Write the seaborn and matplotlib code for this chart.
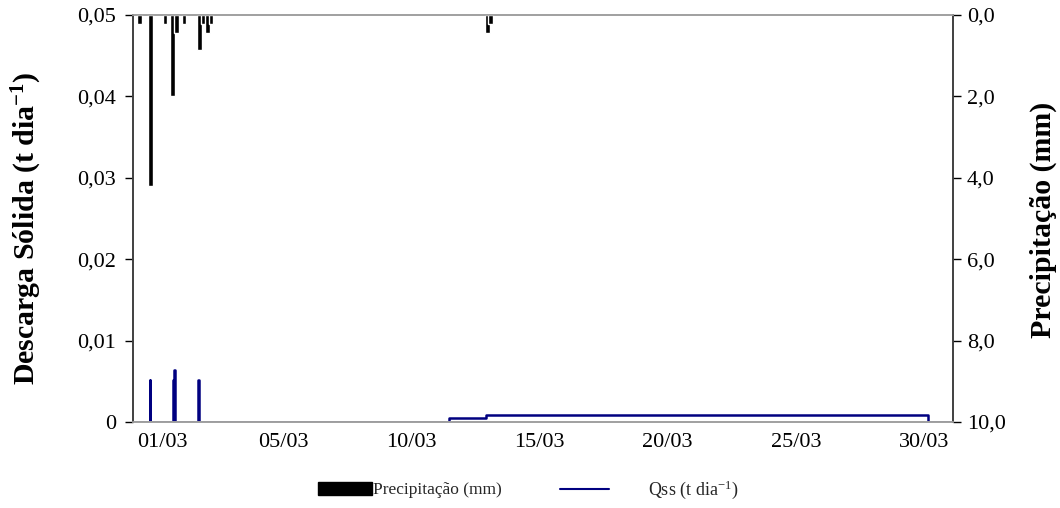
import matplotlib
matplotlib.use("Agg")
import matplotlib.pyplot as plt
import seaborn as sns
import pandas as pd
from matplotlib.patches import Patch
from matplotlib.lines import Line2D

# ---- data (x = day of March, 5 = 05/03 00:00) ----
prec_day = [-0.60, -0.17, 0.40, 0.69, 0.83, 1.14, 1.76, 1.90, 2.06, 2.19, 12.96, 13.09]
prec_mm = [0.22, 4.2, 0.22, 2.0, 0.45, 0.22, 0.86, 0.22, 0.45, 0.22, 0.45, 0.22]

qss_day = [-0.85, -0.20, -0.17, 0.70, 0.74, 0.76, 0.80, 1.70, 1.74, 11.47, 12.92, 30.16, 31.13]
qss_val = [0.0, 0.0052, 0.0, 0.0052, 0.0, 0.0064, 0.0, 0.0052, 0.0, 0.00054, 0.00082, 0.0, 0.0]

x_ticks = [0.28, 5, 10, 15, 20, 25, 30]
x_labels = ["01/03", "05/03", "10/03", "15/03", "20/03", "25/03", "30/03"]
left_ticks = [0, 0.01, 0.02, 0.03, 0.04, 0.05]
left_labels = ["0", "0,01", "0,02", "0,03", "0,04", "0,05"]
right_ticks = [0, 2, 4, 6, 8, 10]
right_labels = ["0,0", "2,0", "4,0", "6,0", "8,0", "10,0"]

sns.set_theme(style="white")
plt.rcParams["font.family"] = ["Liberation Serif", "DejaVu Serif"]
plt.rcParams["mathtext.fontset"] = "custom"
plt.rcParams["mathtext.rm"] = "Liberation Serif"
plt.rcParams["mathtext.bf"] = "Liberation Serif:bold"
plt.rcParams["mathtext.it"] = "Liberation Serif:italic"

fig = plt.figure(figsize=(10.6, 5.08), dpi=100)
ax = fig.add_axes([133 / 1060, 1 - 422 / 508, 820 / 1060, 407 / 508])
ax2 = ax.twinx()

df_q = pd.DataFrame({"day": qss_day, "qss": qss_val})
sns.lineplot(data=df_q, x="day", y="qss", ax=ax, color="#000080", lw=1.8,
             drawstyle="steps-post", estimator=None, legend=False)

ax2.bar(prec_day, prec_mm, width=0.19, color="black", align="center")

ax.set_xlim(-0.85, 31.13)
ax.set_ylim(0, 0.05)
ax2.set_ylim(10, 0)

ax.set_xticks(x_ticks)
ax.set_xticklabels(x_labels)
ax.set_yticks(left_ticks)
ax.set_yticklabels(left_labels)
ax2.set_yticks(right_ticks)
ax2.set_yticklabels(right_labels)

ax.tick_params(axis="x", length=0, labelsize=16, pad=8, colors="black")
ax.tick_params(axis="y", direction="out", length=6, width=1, labelsize=16,
               colors="black", left=True, pad=6)
ax2.tick_params(axis="y", direction="out", length=6, width=1, labelsize=16,
                colors="black", right=True, pad=4)

for a in (ax, ax2):
    a.spines["top"].set_color("#a0a0a0")
    a.spines["bottom"].set_color("#a0a0a0")
    a.spines["left"].set_color("#404040")
    a.spines["right"].set_color("#404040")
    for s in a.spines.values():
        s.set_linewidth(1.2)

ax.set_xlabel("")
ax.set_ylabel("Descarga Sólida (t dia$^{\\mathbf{-1}}$)", fontsize=21.5,
              fontweight="bold", color="black")
ax.yaxis.set_label_coords((44 - 133) / 820, 1 - (228 - 15) / 407)
ax2.set_ylabel("Precipitação (mm)", fontsize=21.5, fontweight="bold",
               color="black", rotation=90)
ax2.yaxis.set_label_coords((1030 - 133) / 820, 1 - (220 - 15) / 407)

leg_y = 1 - 490 / 508
leg1 = fig.legend([Patch(facecolor="black", edgecolor="black")], ["Precipitação (mm)"],
                  loc="center left", bbox_to_anchor=(318 / 1060, leg_y),
                  frameon=False, fontsize=12.5, handlelength=3.1, handleheight=0.8,
                  handletextpad=0.05, borderpad=0, borderaxespad=0)
leg2 = fig.legend([Line2D([], [], color="#000080", lw=1.5)], ["Qss (t dia$^{-1}$)"],
                  loc="center left", bbox_to_anchor=(560 / 1060, leg_y),
                  frameon=False, fontsize=13, handlelength=2.7,
                  handletextpad=2.2, borderpad=0, borderaxespad=0)

fig.savefig("out.png", dpi=100)
